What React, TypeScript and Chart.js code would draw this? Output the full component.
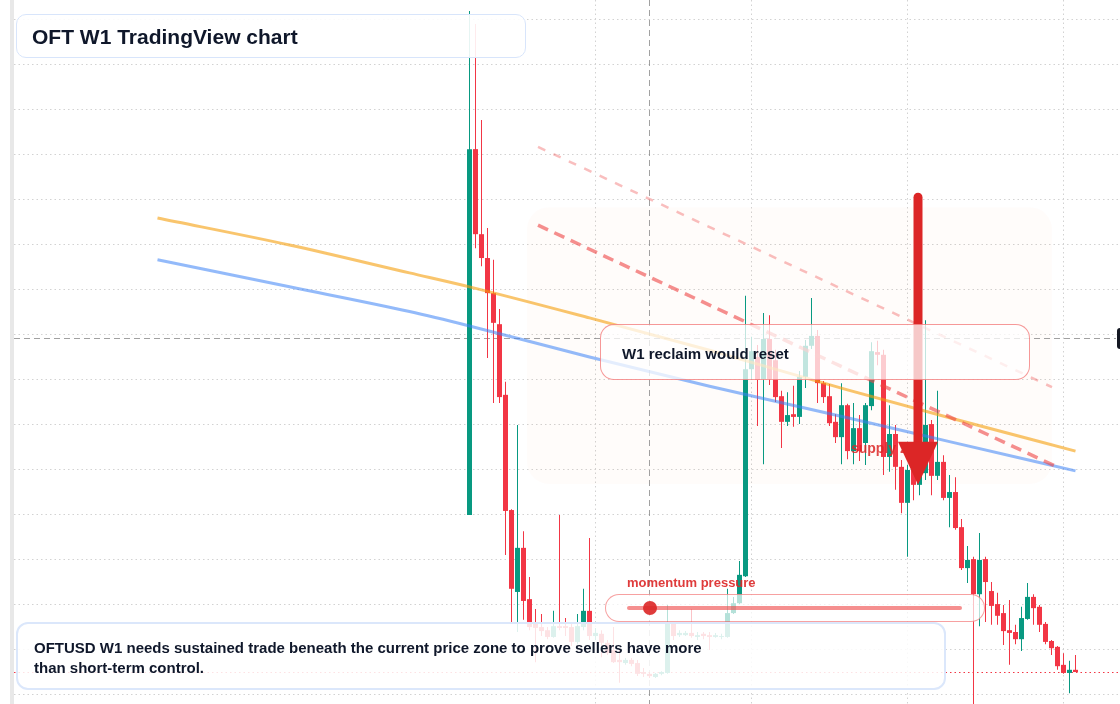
import React, { useEffect, useRef, useState } from "react";
import { Chart, registerables } from "chart.js";

Chart.register(...registerables);

// ---------- DATA (weekly candles, price in US cents) ----------
const opens = [
  6.0, 14.13, 12.24, 11.71, 10.93, 10.24, 8.67, 6.11, 4.29, 5.27,
  4.13, 3.6, 3.51, 3.44, 3.29, 3.53, 3.53, 3.51, 3.18, 3.51,
  3.87, 3.31, 3.36, 3.16, 3.0, 2.78, 2.71, 2.78, 2.71, 2.51,
  2.47, 2.4, 2.47, 2.49, 3.58, 3.33, 3.33, 3.38, 3.29, 3.36,
  3.33, 3.29, 3.29, 3.29, 3.82, 4.04, 4.64, 9.24, 9.51, 9.02,
  9.91, 9.44, 8.64, 8.07, 8.24, 8.18, 9.07, 9.76, 9.98, 8.93,
  8.64, 8.07, 7.73, 8.44, 7.42, 7.93, 7.6, 8.42, 9.62, 9.56,
  7.29, 7.8, 7.07, 6.27, 7.0, 6.67, 6.93, 8.02, 6.87, 7.18,
  6.38, 6.51, 5.73, 4.82, 5.02, 4.24, 5.02, 4.31, 4.02, 3.82,
  3.44, 3.4, 3.24, 3.69, 4.18, 3.96, 3.58, 3.2, 3.07, 2.67,
  2.49, 2.56,
];
const highs = [
  17.2, 16.91, 14.78, 12.38, 11.67, 10.58, 8.96, 6.13, 8.0, 5.64,
  4.62, 3.91, 3.8, 3.51, 3.87, 6.0, 3.71, 3.58, 3.8, 4.36,
  5.49, 3.49, 3.44, 3.22, 3.51, 3.0, 2.82, 2.82, 2.78, 2.6,
  2.49, 2.49, 2.53, 4.0, 3.62, 3.44, 3.42, 3.91, 3.4, 3.4,
  3.4, 3.38, 3.36, 4.36, 4.18, 4.98, 10.87, 9.96, 9.78, 10.49,
  10.44, 9.67, 8.76, 8.73, 8.87, 9.2, 9.89, 10.82, 10.11, 8.98,
  8.91, 8.24, 8.93, 8.47, 8.49, 8.22, 8.49, 9.84, 9.87, 9.67,
  8.44, 8.0, 7.22, 7.11, 7.33, 7.0, 10.33, 8.11, 8.76, 7.33,
  6.89, 6.84, 5.91, 5.31, 5.07, 5.6, 5.07, 4.51, 4.27, 4.0,
  4.11, 3.56, 3.96, 4.49, 4.24, 4.0, 3.62, 3.22, 3.09, 2.93,
  2.76, 2.89,
];
const lows = [
  6.0, 11.93, 11.53, 9.49, 8.49, 8.49, 5.11, 3.62, 3.4, 3.67,
  3.44, 2.73, 3.31, 3.24, 3.27, 3.44, 3.31, 3.09, 3.13, 3.44,
  3.22, 3.22, 2.84, 2.89, 2.71, 2.27, 2.67, 2.64, 2.42, 2.4,
  2.38, 2.38, 2.44, 2.47, 3.22, 3.29, 3.31, 3.27, 3.22, 3.24,
  3.0, 3.27, 3.24, 3.27, 3.8, 4.02, 4.62, 9.0, 7.98, 7.13,
  8.89, 8.51, 7.49, 7.98, 7.96, 8.02, 8.82, 9.69, 8.49, 8.49,
  7.98, 7.6, 7.13, 7.24, 7.13, 7.2, 7.11, 8.33, 9.33, 6.89,
  6.96, 6.56, 6.04, 5.07, 6.33, 6.44, 6.78, 6.44, 6.78, 6.33,
  5.73, 5.67, 4.78, 4.49, 1.44, 3.53, 3.62, 3.56, 3.56, 3.11,
  2.67, 3.13, 2.98, 3.67, 3.56, 3.4, 3.13, 2.89, 2.56, 2.47,
  2.04, 2.51,
];
const closes = [
  14.13, 12.24, 11.71, 10.93, 10.27, 8.62, 6.09, 4.36, 5.27, 4.09,
  3.51, 3.49, 3.42, 3.29, 3.53, 3.49, 3.49, 3.18, 3.53, 3.87,
  3.31, 3.38, 3.16, 2.93, 2.73, 2.73, 2.78, 2.69, 2.47, 2.47,
  2.42, 2.47, 2.51, 3.58, 3.31, 3.38, 3.38, 3.31, 3.33, 3.31,
  3.29, 3.33, 3.31, 3.82, 4.04, 4.67, 9.24, 9.64, 9.0, 9.91,
  9.02, 8.62, 8.07, 8.22, 8.18, 9.07, 9.76, 9.98, 8.93, 8.62,
  8.04, 7.73, 8.44, 7.42, 7.93, 7.42, 8.44, 9.64, 9.56, 7.29,
  7.8, 7.07, 6.27, 7.0, 6.67, 6.93, 8.0, 6.87, 7.18, 6.38,
  6.51, 5.71, 4.82, 5.0, 4.24, 5.0, 4.51, 3.98, 3.76, 3.42,
  3.38, 3.24, 3.71, 4.18, 3.93, 3.56, 3.18, 3.04, 2.64, 2.49,
  2.56, 2.51,
];

// moving averages (candle index -> price)
const maIndex = [-52, -30, -10, 0, 20, 40, 63, 80, 101];
const maOrange = [12.6, 12.0, 11.38, 11.07, 10.38, 9.66, 8.78, 8.16, 7.42];
const maBlue = [11.67, 11.07, 10.52, 10.2, 9.51, 8.86, 8.16, 7.63, 6.98];

// hand-drawn trend lines
const upperTrendIndex = [11.42, 97.08];
const upperTrendPrice = [14.18, 8.84];
const lowerTrendIndex = [11.42, 97.58];
const lowerTrendPrice = [12.44, 7.09];

// supply zone and its arrow / label
const zoneIndex = [9.58, 97.08];
const zonePrice = [12.84, 6.69];
const arrowIndex = 74.75;
const arrowPrice = [13.16, 6.67];
const supplyLabel = [63.58, 7.38];

// crosshair (index, price)
const crosshair = [30, 9.93];

// axis view & grid
const xView = [-75.9167, 108.4167];
const yView = [1.8, 17.444];
const xGridTicks = [21, 47, 73, 99];
const yGridTicks = [2, 3, 4, 5, 6, 7, 8, 9, 10, 11, 12, 13, 14, 15, 16, 17];

const GREEN = "#089981";
const RED = "#f23645";
const FONT = '"Liberation Sans", Arial, Helvetica, sans-serif';

type Overlay = { ax: number; aTop: number; aTip: number; sx: number; sy: number } | null;

export default function App() {
  const canvasRef = useRef<HTMLCanvasElement | null>(null);
  const [ov, setOv] = useState<Overlay>(null);

  useEffect(() => {
    const canvas = canvasRef.current;
    if (!canvas) return;
    const colors = closes.map((c, i) => (c >= opens[i] ? GREEN : RED));

    const backdrop = {
      id: "backdrop",
      beforeDraw(chart: any) {
        const { ctx, chartArea } = chart;
        ctx.save();
        ctx.fillStyle = "#ffffff";
        ctx.fillRect(0, 0, chart.width, chart.height);
        ctx.fillStyle = "#e8e8e8";
        ctx.fillRect(chartArea.left - 4, 0, 4, chart.height);
        ctx.restore();
      },
      beforeDatasetsDraw(chart: any) {
        const { ctx, chartArea, scales } = chart;
        const xs = scales.x;
        const ys = scales.y;
        ctx.save();
        // supply zone
        const zx0 = xs.getPixelForValue(zoneIndex[0]);
        const zx1 = xs.getPixelForValue(zoneIndex[1]);
        const zy0 = ys.getPixelForValue(zonePrice[0]);
        const zy1 = ys.getPixelForValue(zonePrice[1]);
        ctx.fillStyle = "rgba(234,88,12,0.018)";
        ctx.beginPath();
        (ctx as any).roundRect(zx0, zy0, zx1 - zx0, zy1 - zy0, 22);
        ctx.fill();
        // crosshair
        const cx = Math.round(xs.getPixelForValue(crosshair[0])) + 0.5;
        const cy = Math.round(ys.getPixelForValue(crosshair[1])) + 0.5;
        ctx.strokeStyle = "rgba(130,130,130,0.75)";
        ctx.lineWidth = 1;
        ctx.setLineDash([6, 4]);
        ctx.beginPath();
        ctx.moveTo(cx, chartArea.top);
        ctx.lineTo(cx, chartArea.bottom);
        ctx.moveTo(chartArea.left, cy);
        ctx.lineTo(chartArea.right - 4, cy);
        ctx.stroke();
        // current price line
        const py = Math.round(ys.getPixelForValue(closes[closes.length - 1])) + 0.5;
        ctx.strokeStyle = RED;
        ctx.setLineDash([1.5, 3]);
        ctx.beginPath();
        ctx.moveTo(chartArea.left, py);
        ctx.lineTo(chartArea.right, py);
        ctx.stroke();
        ctx.setLineDash([]);
        // price label of crosshair (cut off at right edge)
        ctx.fillStyle = "#131722";
        ctx.beginPath();
        (ctx as any).roundRect(chartArea.right - 3, cy - 10.5, 60, 21, 3);
        ctx.fill();
        ctx.restore();
      },
    };

    const chart = new Chart(canvas, {
      type: "bar",
      data: {
        datasets: [
          {
            type: "bar",
            label: "wick",
            data: lows.map((l, i) => ({ x: i, y: [l, highs[i]] })) as any,
            backgroundColor: colors,
            barThickness: 1,
            grouped: false,
            inflateAmount: 0,
            order: 10,
          } as any,
          {
            type: "bar",
            label: "body",
            data: opens.map((o, i) => ({ x: i, y: [o, closes[i]] })) as any,
            backgroundColor: colors,
            barThickness: 5,
            grouped: false,
            inflateAmount: 0,
            order: 9,
          } as any,
          {
            type: "line",
            label: "MA fast",
            data: maIndex.map((x, k) => ({ x, y: maOrange[k] })),
            borderColor: "rgba(245,158,11,0.6)",
            borderWidth: 3,
            pointRadius: 0,
            cubicInterpolationMode: "monotone",
            order: 5,
          } as any,
          {
            type: "line",
            label: "MA slow",
            data: maIndex.map((x, k) => ({ x, y: maBlue[k] })),
            borderColor: "rgba(59,130,246,0.55)",
            borderWidth: 3,
            pointRadius: 0,
            cubicInterpolationMode: "monotone",
            order: 5,
          } as any,
          {
            type: "line",
            label: "upper trend",
            data: upperTrendIndex.map((x, k) => ({ x, y: upperTrendPrice[k] })),
            borderColor: "rgba(239,68,68,0.35)",
            borderWidth: 2.5,
            borderDash: [8, 9],
            pointRadius: 0,
            order: 3,
          } as any,
          {
            type: "line",
            label: "lower trend",
            data: lowerTrendIndex.map((x, k) => ({ x, y: lowerTrendPrice[k] })),
            borderColor: "rgba(239,68,68,0.6)",
            borderWidth: 3.5,
            borderDash: [11, 7],
            pointRadius: 0,
            order: 3,
          } as any,
        ],
      },
      options: {
        responsive: false,
        animation: false,
        devicePixelRatio: 1,
        events: [],
        layout: { padding: { left: 14, right: 0, top: 0, bottom: 0 } },
        plugins: { legend: { display: false }, tooltip: { enabled: false } },
        scales: {
          x: {
            type: "linear",
            min: xView[0],
            max: xView[1],
            offset: false,
            ticks: { display: false },
            grid: { color: "#d2d2d2", drawTicks: false, offset: false, lineWidth: 1 },
            border: { display: false, dash: [1.5, 3] },
            afterBuildTicks: (s: any) => {
              s.ticks = xGridTicks.map((v) => ({ value: v }));
            },
          },
          y: {
            type: "linear",
            min: yView[0],
            max: yView[1],
            ticks: { display: false },
            grid: { color: "#d2d2d2", drawTicks: false, lineWidth: 1 },
            border: { display: false, dash: [1.5, 3] },
            afterBuildTicks: (s: any) => {
              s.ticks = yGridTicks.map((v) => ({ value: v }));
            },
          },
        } as any,
      } as any,
      plugins: [backdrop],
    });

    const xs: any = chart.scales.x;
    const ys: any = chart.scales.y;
    setOv({
      ax: xs.getPixelForValue(arrowIndex),
      aTop: ys.getPixelForValue(arrowPrice[0]),
      aTip: ys.getPixelForValue(arrowPrice[1]),
      sx: xs.getPixelForValue(supplyLabel[0]),
      sy: ys.getPixelForValue(supplyLabel[1]),
    });

    return () => chart.destroy();
  }, []);

  const headLen = 43;
  const headHalf = 20;

  return (
    <div style={{ position: "fixed", left: 0, top: 0, width: 1120, height: 704, overflow: "hidden", background: "#fff", fontFamily: FONT }}>
      <canvas ref={canvasRef} width={1120} height={704} style={{ position: "absolute", left: 0, top: 0, width: 1120, height: 704, display: "block" }} />

      {ov && (
        <div style={{ position: "absolute", left: ov.sx, top: ov.sy - 12.85, font: `bold 14px ${FONT}`, lineHeight: "16px", color: "rgba(220,38,38,0.85)", whiteSpace: "nowrap" }}>
          supply zone
        </div>
      )}
      {ov && (
        <svg width={1120} height={704} style={{ position: "absolute", left: 0, top: 0 }}>
          <line x1={ov.ax} y1={ov.aTop + 4.5} x2={ov.ax} y2={ov.aTip - headLen + 2} stroke="#dc2626" strokeWidth={9} strokeLinecap="round" />
          <polygon points={`${ov.ax - headHalf},${ov.aTip - headLen} ${ov.ax + headHalf},${ov.aTip - headLen} ${ov.ax},${ov.aTip}`} fill="#dc2626" />
        </svg>
      )}

      {/* W1 reclaim box */}
      <div style={{ position: "absolute", left: 600, top: 324, width: 430, height: 56, boxSizing: "border-box", border: "1.5px solid rgba(239,68,68,0.55)", borderRadius: 14, background: "rgba(255,255,255,0.75)" }} />
      <div style={{ position: "absolute", left: 622, top: 344, font: `bold 15px ${FONT}`, lineHeight: "20px", color: "#0f172a", whiteSpace: "nowrap" }}>
        W1 reclaim would reset
      </div>

      {/* Title */}
      <div style={{ position: "absolute", left: 16, top: 14, width: 510, height: 44, boxSizing: "border-box", border: "1.5px solid #d8e5fb", borderRadius: 10, background: "rgba(255,255,255,0.9)" }} />
      <div style={{ position: "absolute", left: 32, top: 23.7, font: `bold 21px ${FONT}`, lineHeight: "26px", color: "#0f172a", whiteSpace: "nowrap" }}>
        OFT W1 TradingView chart
      </div>

      {/* Bottom note */}
      <div style={{ position: "absolute", left: 16, top: 622, width: 930, height: 68, boxSizing: "border-box", border: "2px solid #dbe7fb", borderRadius: 12, background: "rgba(255,255,255,0.86)" }} />
      <div style={{ position: "absolute", left: 34, top: 637.8, width: 690, font: `bold 15px ${FONT}`, lineHeight: "20px", color: "#0f172a" }}>
        OFTUSD W1 needs sustained trade beneath the current price zone to prove sellers have more than short-term control.
      </div>

      {/* Momentum pill */}
      <div style={{ position: "absolute", left: 627, top: 574.8, font: `bold 13px ${FONT}`, lineHeight: "16px", color: "rgba(220,38,38,0.9)", whiteSpace: "nowrap" }}>
        momentum pressure
      </div>
      <div style={{ position: "absolute", left: 605, top: 594, width: 380, height: 28, boxSizing: "border-box", border: "1.5px solid rgba(239,68,68,0.5)", borderRadius: 14, background: "rgba(255,255,255,0.7)" }} />
      <div style={{ position: "absolute", left: 627, top: 605.7, width: 335, height: 4, borderRadius: 2, background: "rgba(239,68,68,0.6)" }} />
      <div style={{ position: "absolute", left: 643, top: 600.7, width: 14, height: 14, borderRadius: "50%", background: "rgba(220,38,38,0.9)" }} />
    </div>
  );
}
